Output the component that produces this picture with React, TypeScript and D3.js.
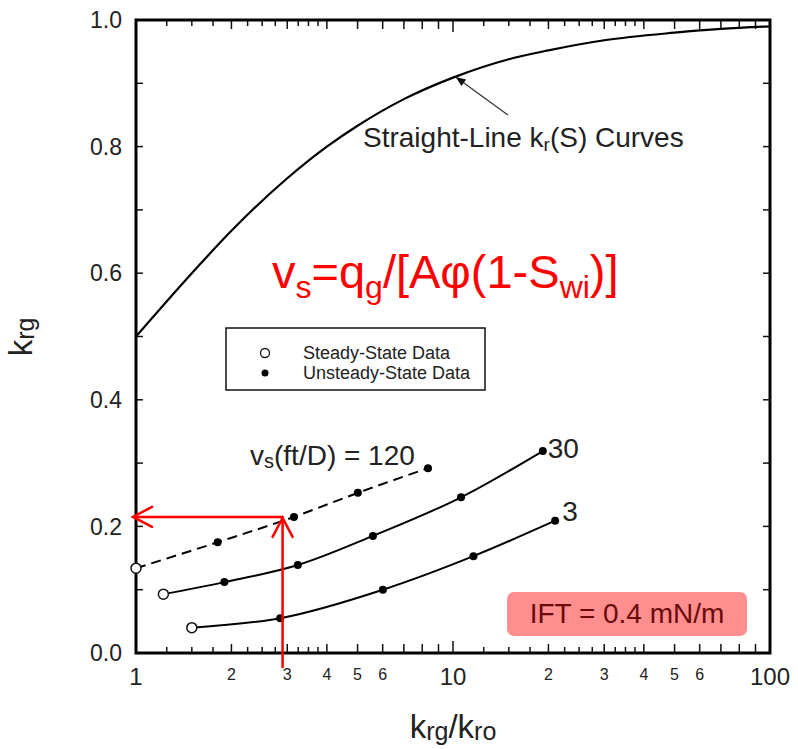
import React from 'react';
import * as d3 from 'd3';

// ---- data ----
const straightX = [1, 1.5, 2, 3, 4, 5, 7, 10, 15, 20, 30, 50, 70, 100];
const straightY = [0.5, 0.6, 0.667, 0.75, 0.8, 0.833, 0.875, 0.909, 0.938, 0.952, 0.968, 0.98, 0.986, 0.99];

const v120X = [1.0, 1.81, 3.15, 5.01, 8.34];
const v120Y = [0.134, 0.175, 0.215, 0.253, 0.292];
const v120Steady = [true, false, false, false, false];

const v30X = [1.22, 1.9, 3.24, 5.59, 10.6, 19.2];
const v30Y = [0.093, 0.112, 0.139, 0.185, 0.246, 0.319];
const v30Steady = [true, false, false, false, false, false];

const v3X = [1.5, 2.85, 6.01, 11.6, 21.0];
const v3Y = [0.04, 0.055, 0.1, 0.153, 0.209];
const v3Steady = [true, false, false, false, false];

const yTickValues = [0, 0.1, 0.2, 0.3, 0.4, 0.5, 0.6, 0.7, 0.8, 0.9, 1.0];
const yLabelValues = [0, 0.2, 0.4, 0.6, 0.8, 1.0];
const yLabelTexts = ['0.0', '0.2', '0.4', '0.6', '0.8', '1.0'];

const xDecadeTicks = [1, 10, 100];
const xDecadeLabels = ['1', '10', '100'];
const xIntTicks = [2, 3, 4, 5, 6, 7, 8, 9, 20, 30, 40, 50, 60, 70, 80, 90];
const xQuarterTicks = [1.25, 1.5, 1.75, 2.25, 2.5, 2.75, 3.25, 3.5, 3.75, 12.5, 15, 17.5, 22.5, 25, 27.5, 32.5, 35, 37.5];
const xSmallLabelValues = [2, 3, 4, 5, 6, 20, 30, 40, 50, 60];
const xSmallLabelTexts = ['2', '3', '4', '5', '6', '2', '3', '4', '5', '6'];

// annotation values (data space)
const readX = 2.9;
const readY = 0.215;
const curveArrowTip = [10.2, 0.91];
const curveArrowTail = [14.9, 0.85];

const FONT = '"Liberation Sans", Arial, Helvetica, sans-serif';

export default function App() {
  const W = 798, H = 749;
  const left = 136, right = 770, top = 20, bottom = 653;
  const x = d3.scaleLog().domain([1, 100]).range([left, right]);
  const y = d3.scaleLinear().domain([0, 1]).range([bottom, top]);

  const line = d3.line<[number, number]>()
    .x(d => x(d[0]))
    .y(d => y(d[1]))
    .curve(d3.curveMonotoneX);

  const zip = (xs: number[], ys: number[]) => xs.map((v, i) => [v, ys[i]] as [number, number]);
  const straight = zip(straightX, straightY);
  const s120 = zip(v120X, v120Y);
  const s30 = zip(v30X, v30Y);
  const s3 = zip(v3X, v3Y);

  const markers = (pts: [number, number][], steady: boolean[], key: string) =>
    pts.map((p, i) =>
      steady[i] ? (
        <circle key={key + i} cx={x(p[0])} cy={y(p[1])} r={5} fill="#fff" stroke="#111" strokeWidth={1.5} />
      ) : (
        <circle key={key + i} cx={x(p[0])} cy={y(p[1])} r={4} fill="#000" />
      )
    );

  const tickStroke = { stroke: '#111', strokeWidth: 1.5 };

  const rx = x(readX), ry = y(readY);
  const tipX = x(1) - 3;

  const ax1 = x(curveArrowTail[0]), ay1 = y(curveArrowTail[1]);
  const ax2 = x(curveArrowTip[0]), ay2 = y(curveArrowTip[1]);
  const ang = Math.atan2(ay2 - ay1, ax2 - ax1);
  const ah = 10, aw = 4;
  const headPts = [
    [ax2, ay2],
    [ax2 - ah * Math.cos(ang) + aw * Math.sin(ang), ay2 - ah * Math.sin(ang) - aw * Math.cos(ang)],
    [ax2 - ah * Math.cos(ang) - aw * Math.sin(ang), ay2 - ah * Math.sin(ang) + aw * Math.cos(ang)],
  ].map(p => p.join(',')).join(' ');

  return (
    <svg width={W} height={H} style={{ position: 'absolute', left: 0, top: 0, display: 'block', background: '#fff' }} fontFamily={FONT}>
      <rect x={0} y={0} width={W} height={H} fill="#fff" />

      {yTickValues.map((v, i) => (
        <g key={'yt' + i}>
          <line x1={left} x2={left + 7} y1={y(v)} y2={y(v)} {...tickStroke} />
          <line x1={right} x2={right - 7} y1={y(v)} y2={y(v)} {...tickStroke} />
        </g>
      ))}
      {xDecadeTicks.map((v, i) => (
        <g key={'xd' + i}>
          <line x1={x(v)} x2={x(v)} y1={bottom} y2={bottom - 12} {...tickStroke} />
          <line x1={x(v)} x2={x(v)} y1={top} y2={top + 12} {...tickStroke} />
        </g>
      ))}
      {xIntTicks.map((v, i) => (
        <g key={'xi' + i}>
          <line x1={x(v)} x2={x(v)} y1={bottom} y2={bottom - 9} {...tickStroke} />
          <line x1={x(v)} x2={x(v)} y1={top} y2={top + 9} {...tickStroke} />
        </g>
      ))}
      {xQuarterTicks.map((v, i) => (
        <g key={'xq' + i}>
          <line x1={x(v)} x2={x(v)} y1={bottom} y2={bottom - 6} {...tickStroke} />
          <line x1={x(v)} x2={x(v)} y1={top} y2={top + 6} {...tickStroke} />
        </g>
      ))}

      <rect x={left} y={top} width={right - left} height={bottom - top} fill="none" stroke="#000" strokeWidth={3} />

      {yLabelValues.map((v, i) => (
        <text key={'yl' + i} x={left - 14} y={y(v)} dy="0.36em" textAnchor="end" fontSize={23} fill="#222">
          {yLabelTexts[i]}
        </text>
      ))}
      {xDecadeTicks.map((v, i) => (
        <text key={'xl' + i} x={x(v)} y={685} textAnchor="middle" fontSize={24} fill="#222">
          {xDecadeLabels[i]}
        </text>
      ))}
      {xSmallLabelValues.map((v, i) => (
        <text key={'xs' + i} x={x(v)} y={680} textAnchor="middle" fontSize={16} fill="#222">
          {xSmallLabelTexts[i]}
        </text>
      ))}

      <text x={453} y={738} textAnchor="middle" fill="#222">
        <tspan fontSize={33}>k</tspan>
        <tspan fontSize={25} dy={2}>rg</tspan>
        <tspan fontSize={33} dy={-2}>/k</tspan>
        <tspan fontSize={25} dy={2}>ro</tspan>
      </text>
      <text transform="translate(32,337) rotate(-90)" textAnchor="middle" fill="#222">
        <tspan fontSize={33}>k</tspan>
        <tspan fontSize={25} dy={2}>rg</tspan>
      </text>

      <path d={line(straight) || ''} fill="none" stroke="#000" strokeWidth={2.2} />
      <line x1={ax1} y1={ay1} x2={ax2} y2={ay2} stroke="#333" strokeWidth={1.2} />
      <polygon points={headPts} fill="#111" />
      <text x={363} y={147} fontSize={28} fill="#222">
        Straight-Line k<tspan fontSize={19} dy={4}>r</tspan><tspan dy={-4}>(S) Curves</tspan>
      </text>

      <path d={line(s120) || ''} fill="none" stroke="#000" strokeWidth={2} strokeDasharray="10,6" />
      <path d={line(s30) || ''} fill="none" stroke="#000" strokeWidth={2} />
      <path d={line(s3) || ''} fill="none" stroke="#000" strokeWidth={2} />
      {markers(s120, v120Steady, 'a')}
      {markers(s30, v30Steady, 'b')}
      {markers(s3, v3Steady, 'c')}

      <text x={250} y={465} fontSize={28} fill="#222">
        v<tspan fontSize={20} dy={3}>s</tspan><tspan dy={-3}>(ft/D) = 120</tspan>
      </text>
      <text x={x(v30X[v30X.length - 1]) + 5} y={y(v30Y[v30Y.length - 1]) + 7} fontSize={28} fill="#222">30</text>
      <text x={x(v3X[v3X.length - 1]) + 7} y={y(v3Y[v3Y.length - 1])} fontSize={28} fill="#222">3</text>

      <rect x={226} y={328} width={259} height={62} fill="#fff" stroke="#111" strokeWidth={1.5} />
      <circle cx={265} cy={353} r={4.5} fill="#fff" stroke="#111" strokeWidth={1.3} />
      <circle cx={265} cy={373} r={3.5} fill="#000" />
      <text x={303} y={359} fontSize={18} fill="#222">Steady-State Data</text>
      <text x={303} y={379} fontSize={18} fill="#222">Unsteady-State Data</text>

      <text x={272} y={288} fontSize={47} fill="#ff0000">
        v<tspan fontSize={32} dy={10}>s</tspan>
        <tspan dy={-10}>=q</tspan><tspan fontSize={32} dy={10}>g</tspan>
        <tspan dy={-10}>/[Aφ(1-S</tspan><tspan fontSize={32} dy={10}>wi</tspan>
        <tspan dy={-10}>)]</tspan>
      </text>

      <g stroke="#ff0000" strokeWidth={2.5} fill="none" strokeLinecap="round">
        <line x1={rx} y1={667} x2={rx} y2={ry + 1} />
        <polyline points={`${rx - 10},${ry + 20} ${rx},${ry + 1} ${rx + 10},${ry + 20}`} />
        <line x1={rx} y1={ry} x2={tipX} y2={ry} />
        <polyline points={`${tipX + 19},${ry - 10} ${tipX},${ry} ${tipX + 19},${ry + 10}`} />
      </g>

      <rect x={507} y={592} width={240} height={44} rx={7} fill="#ff8f8f" />
      <text x={627} y={623} textAnchor="middle" fontSize={28} fill="#6b0a0a">IFT = 0.4 mN/m</text>
    </svg>
  );
}
